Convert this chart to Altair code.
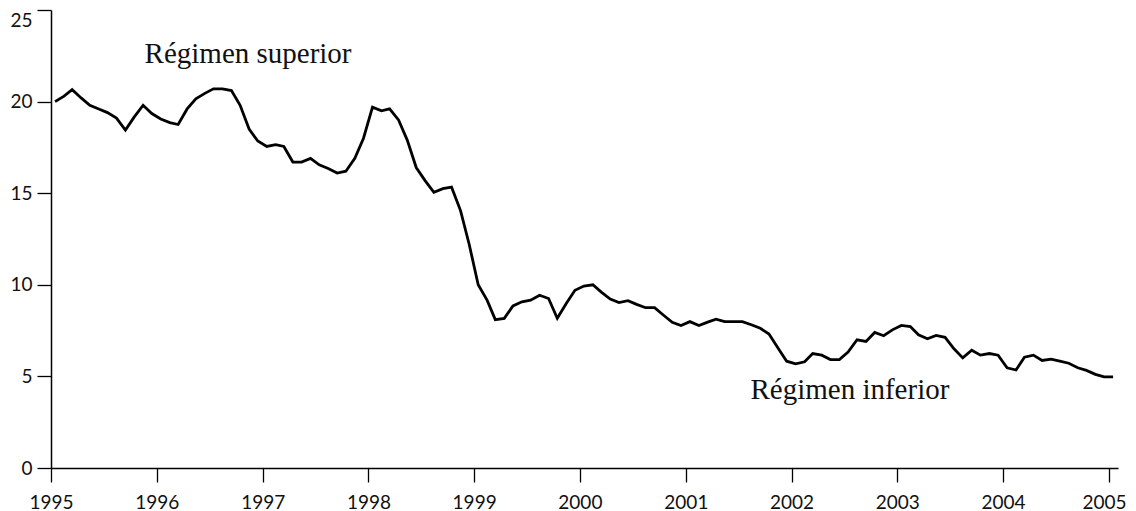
import altair as alt
import pandas as pd

# Monthly series, Jan 1995 .. Jan 2005 (mid-month observations)
start_month = "1995-01-01"
values = [
    20.0, 20.3, 20.65, 20.2, 19.8, 19.6, 19.4, 19.1, 18.45, 19.15, 19.8, 19.35,   # 1995
    19.05, 18.85, 18.75, 19.6, 20.15, 20.45, 20.7, 20.7, 20.6, 19.8, 18.5, 17.85,  # 1996
    17.55, 17.65, 17.55, 16.7, 16.7, 16.9, 16.55, 16.35, 16.1, 16.2, 16.9, 18.0,   # 1997
    19.7, 19.5, 19.6, 19.0, 17.9, 16.4, 15.7, 15.05, 15.25, 15.33, 14.05, 12.2,    # 1998
    10.0, 9.15, 8.1, 8.17, 8.85, 9.07, 9.16, 9.43, 9.25, 8.17, 8.98, 9.7,          # 1999
    9.93, 10.0, 9.6, 9.22, 9.03, 9.13, 8.93, 8.75, 8.75, 8.35, 7.95, 7.78,         # 2000
    7.99, 7.78, 7.95, 8.12, 7.99, 7.99, 7.99, 7.82, 7.63, 7.31, 6.55, 5.83,        # 2001
    5.69, 5.8, 6.25, 6.16, 5.92, 5.92, 6.33, 7.0, 6.91, 7.4, 7.22, 7.54,           # 2002
    7.78, 7.72, 7.27, 7.05, 7.24, 7.13, 6.52, 6.01, 6.43, 6.16, 6.25, 6.16,        # 2003
    5.47, 5.35, 6.05, 6.16, 5.87, 5.94, 5.83, 5.72, 5.47, 5.33, 5.11, 4.97,        # 2004
    4.97,                                                                          # 2005
]
dates = pd.date_range(start_month, periods=len(values), freq="MS") + pd.Timedelta(days=14)

year_ticks = list(range(1995, 2006))
y_ticks = [0, 5, 10, 15, 20, 25]

label_text = ["Régimen superior", "Régimen inferior"]
label_date = ["1995-11-20", "2001-08-12"]
label_value = [22.1, 3.77]

df = pd.DataFrame({"fecha": dates, "valor": values})
df_lab = pd.DataFrame({"fecha": pd.to_datetime(label_date), "valor": label_value, "texto": label_text})

x_scale = alt.Scale(domain=[alt.DateTime(year=1995, month=1, date=1),
                            alt.DateTime(year=2005, month=2, date=1)])
y_scale = alt.Scale(domain=[0, 25], nice=False)

tick_font = "Lato"

x_axis = alt.Axis(
    title=None,
    values=[alt.DateTime(year=y, month=1, date=1) for y in year_ticks],
    format="%Y",
    grid=False,
    domainColor="black",
    domainWidth=1.5,
    tickColor="black",
    tickWidth=1.3,
    tickSize=14,
    labelFont=tick_font,
    labelFontSize=19,
    labelColor="#111",
    labelPadding=11,
    labelFlush=False,
    labelOverlap=False,
    labelOffset={"condition": {"test": "year(datum.value) == 2005", "value": -5}, "value": 0},
)
y_axis = alt.Axis(
    title=None,
    values=y_ticks,
    grid=False,
    domainColor="black",
    domainWidth=1.5,
    tickColor="black",
    tickWidth=1.3,
    tickSize=14,
    labelFont=tick_font,
    labelFontSize=19,
    labelColor="#111",
    labelPadding=5,
    labelBaseline={"condition": {"test": "datum.value == 25", "value": "top"}, "value": "middle"},
    labelOffset={"condition": {"test": "datum.value == 25", "value": 1}, "value": 0},
)

line = alt.Chart(df).mark_line(color="black", strokeWidth=2.8, strokeJoin="miter").encode(
    x=alt.X("fecha:T", scale=x_scale, axis=x_axis),
    y=alt.Y("valor:Q", scale=y_scale, axis=y_axis),
)

labels = alt.Chart(df_lab).mark_text(
    font="Liberation Serif", fontSize=29, color="#111", align="left", baseline="alphabetic"
).encode(
    x=alt.X("fecha:T", scale=x_scale),
    y=alt.Y("valor:Q", scale=y_scale),
    text="texto:N",
)

chart = (line + labels).properties(
    width=1067,
    height=458,
    autosize=alt.AutoSizeParams(type="none"),
    padding={"left": 43, "top": 2, "right": 10, "bottom": 43},
).configure(
    background="white",
    view=alt.ViewConfig(stroke="transparent", strokeWidth=0),
)

chart.save("out.html", embed_options={"renderer": "svg", "actions": False})
